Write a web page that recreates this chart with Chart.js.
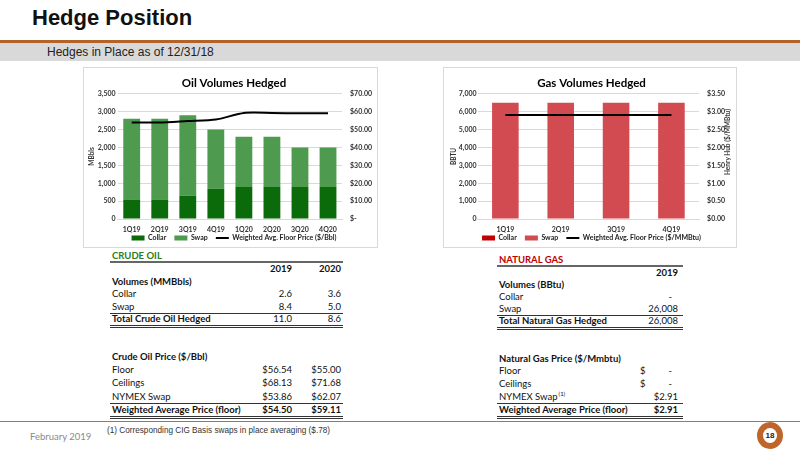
<!DOCTYPE html>
<html>
<head>
<meta charset="utf-8">
<script src="https://cdn.jsdelivr.net/npm/chart.js@4.4.1/dist/chart.umd.min.js"></script>
<style>
  body { margin: 0; width: 800px; height: 450px; position: relative; background: #fff; overflow: hidden; font-family: Lato, sans-serif; color: #222; }
  .abs { position: absolute; }
  #title { left: 32px; top: 5px; font: bold 22px "Liberation Sans", Arial, sans-serif; color: #111; }
  #rule { left: 0; top: 40px; width: 800px; height: 3px; background: #b5622a; }
  #band { left: 0; top: 43px; width: 800px; height: 18px; background: #d9d9d9; }
  #subtitle { left: 47px; top: 45px; font: 12px "Liberation Sans", Arial, sans-serif; color: #222; }
  .box { border: 1px solid #d9d9d9; box-sizing: border-box; }
  #hh { left: 678px; top: 138px; width: 100px; text-align: center; transform: rotate(-90deg); font: bold 6.5px Lato, sans-serif; color: #333; line-height: 8px; }
  .tbl div { position: absolute; white-space: nowrap; font-size: 9.5px; line-height: 12px; color: #111; }
  .b { font-weight: bold; }
  .r { text-align: right; }
  .hl { position: absolute; height: 0; }
  #foot { left: 0; top: 421px; width: 800px; height: 1px; background: #808080; }
  #date { left: 30px; top: 431px; font-size: 9.5px; color: #8a8a8a; }
  #note { left: 107px; top: 426px; font: 8.2px "Liberation Sans", Arial, sans-serif; color: #333; }
  #badge { left: 757px; top: 422px; width: 26px; height: 27px; border-radius: 50%; background: #c0652a; }
  #badge span { position: absolute; left: 6px; top: 6px; width: 14px; height: 15px; border-radius: 50%; background: #fff; font: bold 8px "Liberation Sans", Arial, sans-serif; line-height: 15px; text-align: center; color: #222; }
</style>
</head>
<body>
<div id="title" class="abs">Hedge Position</div>
<div id="rule" class="abs"></div>
<div id="band" class="abs"></div>
<div id="subtitle" class="abs">Hedges in Place as of 12/31/18</div>

<div class="abs box" style="left:83px;top:67px;width:295px;height:181px;">
  <canvas id="oil"></canvas>
</div>
<div class="abs box" style="left:443px;top:67px;width:294px;height:181px;">
  <canvas id="gas"></canvas>
</div>
<div id="hh" class="abs">Henry Hub ($/MMBtu)</div>

<div id="oilTable" class="abs tbl" style="left:110px;top:0;width:233px;"></div>
<div id="gasTable" class="abs tbl" style="left:497px;top:0;width:186px;"></div>

<div id="foot" class="abs"></div>
<div id="date" class="abs">February 2019</div>
<div id="note" class="abs">(1) Corresponding CIG Basis swaps in place averaging ($.78)</div>
<div id="badge" class="abs"><span>18</span></div>

<script>
// chart data
const oilQuarters = ["1Q19", "2Q19", "3Q19", "4Q19", "1Q20", "2Q20", "3Q20", "4Q20"];
const oilCollar = [550, 550, 650, 850, 900, 900, 900, 900];
const oilSwap = [2250, 2250, 2250, 1650, 1400, 1400, 1100, 1100];
const oilFloor = [54.0, 54.0, 54.8, 55.6, 59.3, 59.3, 59.1, 59.1];

const gasQuarters = ["1Q19", "2Q19", "3Q19", "4Q19"];
const gasCollar = [0, 0, 0, 0];
const gasSwap = [6500, 6500, 6500, 6500];
const gasFloor = [2.91, 2.91, 2.91, 2.91];

// table data
const oilYears = ["2019", "2020"];
const oilVolCollar = ["2.6", "3.6"];
const oilVolSwap = ["8.4", "5.0"];
const oilVolTotal = ["11.0", "8.6"];
const oilPriceFloor = ["$56.54", "$55.00"];
const oilPriceCeil = ["$68.13", "$71.68"];
const oilPriceSwap = ["$53.86", "$62.07"];
const oilPriceAvg = ["$54.50", "$59.11"];

const gasYears = ["2019"];
const gasVolCollar = ["-"];
const gasVolSwap = ["26,008"];
const gasVolTotal = ["26,008"];
const gasPriceFloor = ["-"];
const gasPriceCeil = ["-"];
const gasPriceSwap = ["$2.91"];
const gasPriceAvg = ["$2.91"];

const FONT = "Lato, sans-serif";
const TXT = "#333";
const GRID = "#d9d9d9";

const makeChart = (canvas, cfg) => {
  const tickFont = { family: FONT, size: 7, weight: "bold" };
  // a wider gap between legend entries, like the Excel legend
  const legendLabels = (chart) =>
    Chart.defaults.plugins.legend.labels.generateLabels(chart)
      .sort((a, b) => a.datasetIndex - b.datasetIndex)
      .map((l, i, all) => ({ ...l, text: i < all.length - 1 ? l.text + "\u2003\u2009" : l.text }));
  return new Chart(canvas, {
    type: "bar",
    data: {
      labels: cfg.labels,
      datasets: [
        { label: "Collar", data: cfg.collar, backgroundColor: cfg.collarColor, yAxisID: "y", pointStyle: "rect", order: 1,
          barPercentage: cfg.barPct, categoryPercentage: 1 },
        { label: "Swap", data: cfg.swap, backgroundColor: cfg.swapColor, yAxisID: "y", pointStyle: "rect", order: 1,
          barPercentage: cfg.barPct, categoryPercentage: 1 },
        { type: "line", label: cfg.lineLabel, data: cfg.floor, borderColor: "#000", backgroundColor: "#000",
          borderWidth: 2, pointRadius: 0, pointStyle: "line", tension: 0.25, yAxisID: "y2", order: -1 },
      ],
    },
    options: {
      responsive: true,
      maintainAspectRatio: false,
      animation: false,
      layout: { padding: cfg.padding },
      plugins: {
        title: { display: true, text: cfg.title, color: "#000", font: { family: FONT, size: 11.5, weight: "bold" }, padding: { top: 8, bottom: 4 } },
        legend: {
          position: "bottom",
          labels: { usePointStyle: true, pointStyleWidth: 13, boxHeight: 5, padding: 2, color: "#222",
            font: { family: FONT, size: 7, weight: "bold" }, generateLabels: legendLabels },
        },
        tooltip: { enabled: false },
      },
      scales: {
        x: {
          stacked: true,
          grid: { display: false, drawTicks: false },
          border: { display: true, color: GRID },
          ticks: { color: TXT, font: tickFont, padding: 6, maxRotation: 0, minRotation: 0, autoSkip: false },
          afterFit: (scale) => { scale.height -= 7; },
        },
        y: {
          stacked: true,
          min: 0, max: cfg.yMax,
          ticks: { stepSize: cfg.yStep, color: TXT, font: tickFont, padding: cfg.yPad,
            callback: (v) => v.toLocaleString("en-US") },
          grid: { color: GRID, drawTicks: false },
          border: { display: false },
          title: { display: true, text: cfg.yTitle, color: TXT, font: { family: FONT, size: 6.5, weight: "bold" }, padding: 0 },
        },
        y2: {
          position: "right",
          min: 0, max: cfg.y2Max,
          ticks: { stepSize: cfg.y2Step, color: TXT, font: tickFont, padding: cfg.y2Pad, callback: cfg.y2Fmt },
          grid: { display: false, drawTicks: false },
          border: { display: false },
        },
      },
    },
  });
};

makeChart(document.getElementById("oil"), {
  title: "Oil Volumes Hedged",
  labels: oilQuarters, collar: oilCollar, swap: oilSwap, floor: oilFloor,
  collarColor: "#0b6b0b", swapColor: "#4e9a4e", barPct: 0.6,
  lineLabel: "Weighted Avg. Floor Price ($/Bbl)",
  yMax: 3500, yStep: 500, yTitle: "MBbls", yPad: 2,
  y2Max: 70, y2Step: 10, y2Fmt: (v) => (v === 0 ? "$-" : "$" + v.toFixed(2)), y2Pad: 8,
  padding: { left: 4, right: -3, top: 0, bottom: -4.5 },
});

makeChart(document.getElementById("gas"), {
  title: "Gas Volumes Hedged",
  labels: gasQuarters, collar: gasCollar, swap: gasSwap, floor: gasFloor,
  collarColor: "#c00000", swapColor: "#d24b50", barPct: 0.48,
  lineLabel: "Weighted Avg. Floor Price ($/MMBtu)",
  yMax: 7000, yStep: 1000, yTitle: "BBTU", yPad: 1,
  y2Max: 3.5, y2Step: 0.5, y2Fmt: (v) => "$" + v.toFixed(2), y2Pad: 8,
  padding: { left: 6, right: 3, top: 0, bottom: -4.5 },
});

// tables
const put = (host, text, x, y, opts = {}) => {
  const d = document.createElement("div");
  d.textContent = text;
  d.style.top = (y - 6) + "px";
  if (opts.right !== undefined) { d.style.left = (opts.right - 80) + "px"; d.style.width = "80px"; d.className = "r"; }
  else d.style.left = x + "px";
  if (opts.bold) d.classList.add("b");
  if (opts.color) d.style.color = opts.color;
  if (opts.sup) {
    const s = document.createElement("span");
    s.textContent = opts.sup;
    s.style.cssText = "font-size:6px;position:relative;top:-4px;margin-left:1px;";
    d.appendChild(s);
  }
  host.appendChild(d);
};
const line = (host, y, w, style) => {
  const d = document.createElement("div");
  d.className = "hl";
  d.style.left = "0px"; d.style.width = w + "px"; d.style.top = y + "px";
  d.style.borderTop = style;
  host.appendChild(d);
};

const oilT = document.getElementById("oilTable");
const oilCols = [182, 231];
put(oilT, "CRUDE OIL", 2, 256, { bold: true, color: "#2e7d1a" });
line(oilT, 261, 233, "2px solid #666");
oilYears.forEach((t, i) => put(oilT, t, 0, 269, { right: oilCols[i], bold: true }));
put(oilT, "Volumes (MMBbls)", 2, 282, { bold: true });
put(oilT, "Collar", 2, 294);
oilVolCollar.forEach((t, i) => put(oilT, t, 0, 294, { right: oilCols[i] }));
put(oilT, "Swap", 2, 307);
oilVolSwap.forEach((t, i) => put(oilT, t, 0, 307, { right: oilCols[i] }));
line(oilT, 313, 233, "1px solid #333");
put(oilT, "Total Crude Oil Hedged", 2, 319, { bold: true });
oilVolTotal.forEach((t, i) => put(oilT, t, 0, 319, { right: oilCols[i] }));
line(oilT, 325, 233, "3px double #333");
put(oilT, "Crude Oil Price ($/Bbl)", 2, 357, { bold: true });
put(oilT, "Floor", 2, 370);
oilPriceFloor.forEach((t, i) => put(oilT, t, 0, 370, { right: oilCols[i] }));
put(oilT, "Ceilings", 2, 383);
oilPriceCeil.forEach((t, i) => put(oilT, t, 0, 383, { right: oilCols[i] }));
put(oilT, "NYMEX Swap", 2, 397);
oilPriceSwap.forEach((t, i) => put(oilT, t, 0, 397, { right: oilCols[i] }));
line(oilT, 403, 233, "1px solid #333");
put(oilT, "Weighted Average Price (floor)", 2, 410, { bold: true });
oilPriceAvg.forEach((t, i) => put(oilT, t, 0, 410, { right: oilCols[i], bold: true }));
line(oilT, 416, 233, "3px double #333");

const gasT = document.getElementById("gasTable");
const gasCol = 181;
put(gasT, "NATURAL GAS", 2, 260, { bold: true, color: "#c00000" });
line(gasT, 265, 186, "2px solid #666");
put(gasT, gasYears[0], 0, 273, { right: gasCol, bold: true });
put(gasT, "Volumes (BBtu)", 2, 285, { bold: true });
put(gasT, "Collar", 2, 297);
put(gasT, gasVolCollar[0], 0, 297, { right: gasCol - 6 });
put(gasT, "Swap", 2, 309);
put(gasT, gasVolSwap[0], 0, 309, { right: gasCol });
line(gasT, 315, 186, "1px solid #333");
put(gasT, "Total Natural Gas Hedged", 2, 321, { bold: true });
put(gasT, gasVolTotal[0], 0, 321, { right: gasCol });
line(gasT, 327, 186, "3px double #333");
put(gasT, "Natural Gas Price ($/Mmbtu)", 2, 359, { bold: true });
put(gasT, "Floor", 2, 371);
put(gasT, "$", 143, 371);
put(gasT, gasPriceFloor[0], 0, 371, { right: gasCol - 6 });
put(gasT, "Ceilings", 2, 384);
put(gasT, "$", 143, 384);
put(gasT, gasPriceCeil[0], 0, 384, { right: gasCol - 6 });
put(gasT, "NYMEX Swap", 2, 397, { sup: "(1)" });
put(gasT, gasPriceSwap[0], 0, 397, { right: gasCol });
line(gasT, 403, 186, "1px solid #333");
put(gasT, "Weighted Average Price (floor)", 2, 410, { bold: true });
put(gasT, gasPriceAvg[0], 0, 410, { right: gasCol, bold: true });
line(gasT, 416, 186, "3px double #333");
</script>
</body>
</html>
